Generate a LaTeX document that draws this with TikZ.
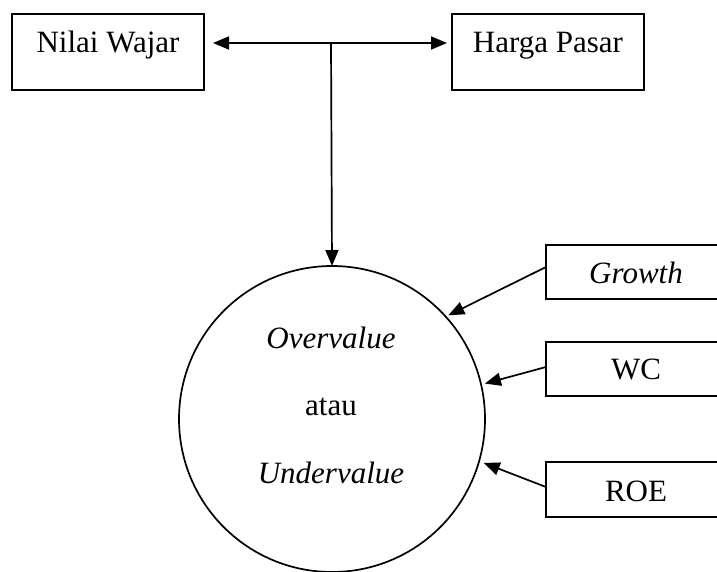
\documentclass[tikz,border=0pt]{standalone}
\usepackage{fontspec}
\setmainfont{Liberation Serif}
\usetikzlibrary{arrows.meta}
\begin{document}
\begin{tikzpicture}[x=1pt,y=-1pt,
  font=\fontsize{31}{37}\selectfont,
  every node/.style={inner sep=0pt,outer sep=0pt},
  topbox/.style={draw,line width=1.7pt,minimum width=192pt,text height=39pt,text depth=37pt},
  sidebox/.style={draw,line width=1.7pt,minimum width=180pt},
  arr/.style={line width=1.7pt,-{Triangle[length=16pt,width=13pt]}},
  darr/.style={line width=1.7pt,{Triangle[length=16pt,width=13pt]}-{Triangle[length=16pt,width=13pt]}}]
\useasboundingbox (0,0) rectangle (717,572);
\clip (0,0) rectangle (717,572);
\fill[white] (0,0) rectangle (717,572);
% top boxes
\node[topbox] (nw) at (108,52) {Nilai Wajar};
\node[topbox] (hp) at (548,52) {Harga Pasar};
% circle
\node[draw,circle,line width=1.7pt,minimum size=306pt] (c) at (332,419) {};
\node[anchor=base] (ov) at (331,348) {\textit{Overvalue}};
\node[anchor=base] (at) at (331,415) {atau};
\node[anchor=base] (uv) at (331,483) {\textit{Undervalue}};
% right boxes
\node[sidebox,text height=38pt,text depth=16pt] (gr) at (636,272) {\textit{Growth}};
\node[sidebox,text height=37pt,text depth=17pt] (wc) at (636,369) {WC};
\node[sidebox,text height=39pt,text depth=16pt] (roe) at (636,489.5) {ROE};
% top connectors
\coordinate (jn) at (331,43);
\draw[darr,shorten <=9pt,shorten >=5pt] (jn -| nw.east) -- (jn -| hp.west);
\draw[arr] (jn) -- (c.north);
% side connectors
\draw[arr,shorten >=3pt] ([yshift=5pt]gr.west) -- (c.42.7);
\draw[arr,shorten >=4pt] ([yshift=2pt]wc.west) -- (c.13.6);
\draw[arr,shorten >=5pt] ([yshift=2.5pt]roe.west) -- (c.-16);
\end{tikzpicture}
\end{document}
